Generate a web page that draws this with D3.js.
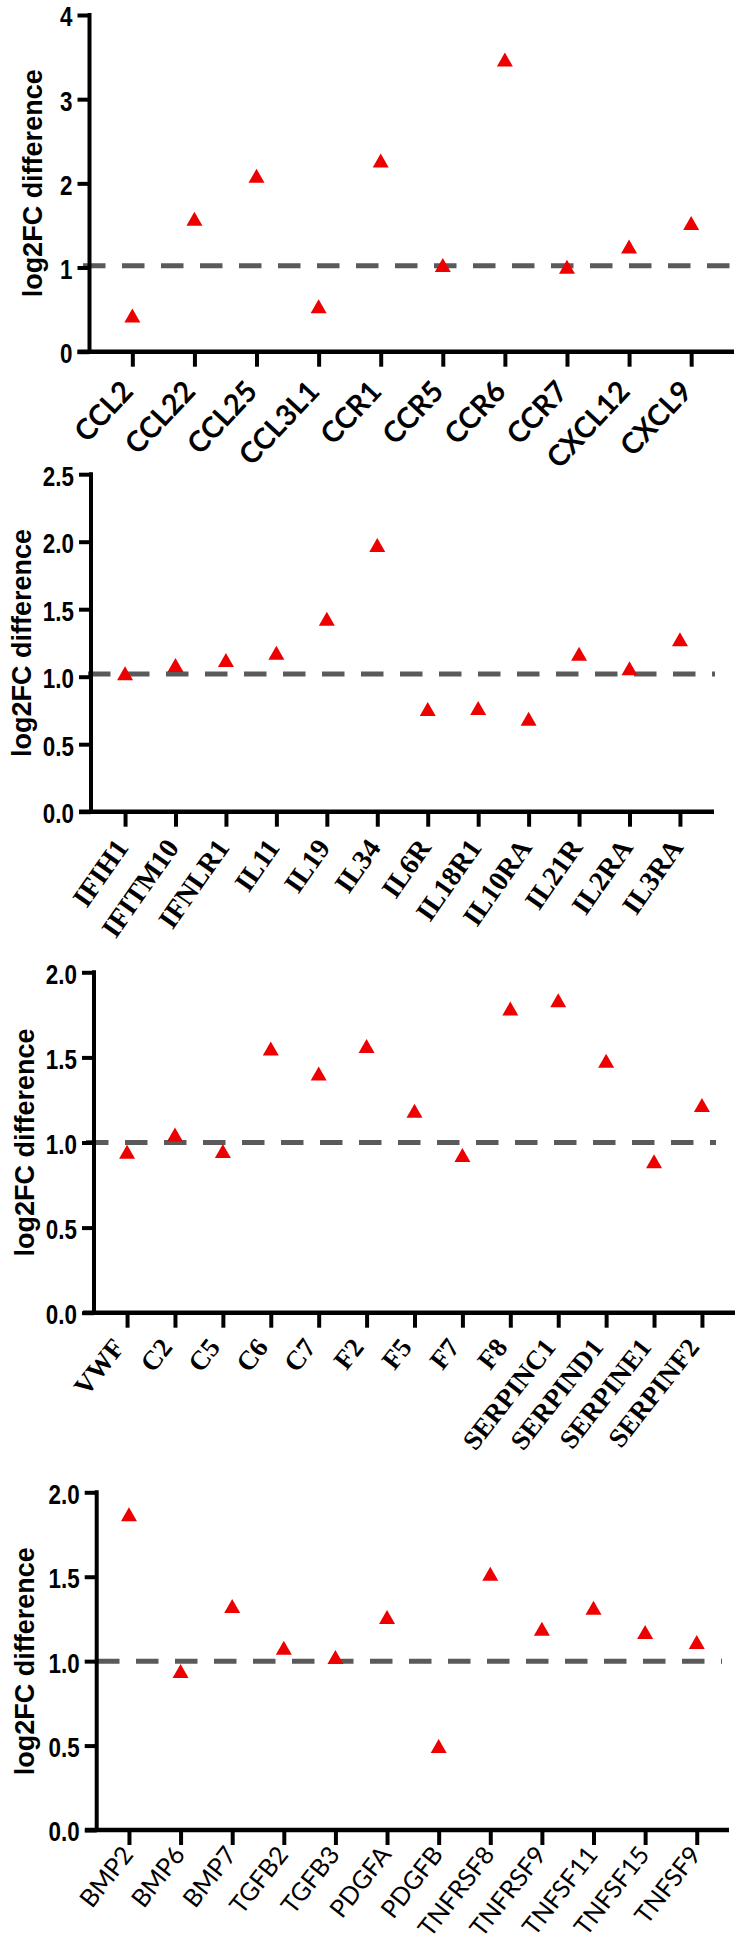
<!DOCTYPE html>
<html>
<head>
<meta charset="utf-8">
<script src="https://cdn.jsdelivr.net/npm/d3@7"></script>
<style>
  html, body { margin: 0; padding: 0; background: #fff; }
  svg { display: block; }
</style>
</head>
<body>
<svg id="chart" width="741" height="1950"></svg>
<script>
// ---------------- DATA ----------------
const chemokineGenes  = ["CCL2","CCL22","CCL25","CCL3L1","CCR1","CCR5","CCR6","CCR7","CXCL12","CXCL9"];
const chemokineValues = [0.43, 1.58, 2.09, 0.54, 2.27, 1.03, 3.47, 1.01, 1.25, 1.53];
const chemokineTicks  = [0, 1, 2, 3, 4];

const interleukinGenes  = ["IFIH1","IFITM10","IFNLR1","IL11","IL19","IL34","IL6R","IL18R1","IL10RA","IL21R","IL2RA","IL3RA"];
const interleukinValues = [1.025, 1.086, 1.123, 1.178, 1.43, 1.975, 0.76, 0.768, 0.689, 1.17, 1.062, 1.277];
const interleukinTicks  = [0, 0.5, 1.0, 1.5, 2.0, 2.5];

const coagulationGenes  = ["VWF","C2","C5","C6","C7","F2","F5","F7","F8","SERPINC1","SERPIND1","SERPINE1","SERPINF2"];
const coagulationValues = [0.945, 1.047, 0.95, 1.553, 1.405, 1.567, 1.186, 0.926, 1.787, 1.836, 1.48, 0.89, 1.22];
const coagulationTicks  = [0, 0.5, 1.0, 1.5, 2.0];

const growthGenes  = ["BMP2","BMP6","BMP7","TGFB2","TGFB3","PDGFA","PDGFB","TNFRSF8","TNFRSF9","TNFSF11","TNFSF15","TNFSF9"];
const growthValues = [1.87, 0.942, 1.326, 1.08, 1.025, 1.261, 0.498, 1.517, 1.192, 1.316, 1.172, 1.113];
const growthTicks  = [0, 0.5, 1.0, 1.5, 2.0];

const referenceLevels = [1.02, 1.02, 1.0, 1.0];
const yAxisTitle = "log2FC difference";

// ---------------- LAYOUT / STYLE ----------------
const panels = [
  { genes: chemokineGenes, values: chemokineValues, ticks: chemokineTicks, ref: referenceLevels[0],
    fmt: d3.format("d"), axisX: 89.5, yTop: 15, y0: 351.7, xStart: 77.5, xEnd: 734, pad: 0.69,
    dashStart: 83, dashEnd: 734, titleX: 42,
    labelFont: "Lato, 'Open Sans', sans-serif", labelWeight: "bold", labelSize: 29, angle: 47, ldx: 2, ldy: 41 },
  { genes: interleukinGenes, values: interleukinValues, ticks: interleukinTicks, ref: referenceLevels[1],
    fmt: d3.format(".1f"), axisX: 91, yTop: 474.2, y0: 811.7, xStart: 79, xEnd: 714, pad: 0.675,
    dashStart: 88, dashEnd: 715, titleX: 31,
    labelFont: "'Liberation Serif', 'Times New Roman', serif", labelWeight: "bold", labelSize: 28, angle: 55, ldx: 4, ldy: 36 },
  { genes: coagulationGenes, values: coagulationValues, ticks: coagulationTicks, ref: referenceLevels[2],
    fmt: d3.format(".1f"), axisX: 94, yTop: 972.3, y0: 1312.7, xStart: 83, xEnd: 735, pad: 0.69,
    dashStart: 86, dashEnd: 716, titleX: 34,
    labelFont: "'Liberation Serif', 'Times New Roman', serif", labelWeight: "bold", labelSize: 27, angle: 52, ldx: -2, ldy: 35 },
  { genes: growthGenes, values: growthValues, ticks: growthTicks, ref: referenceLevels[3],
    fmt: d3.format(".1f"), axisX: 96.7, yTop: 1492.3, y0: 1830, xStart: 85, xEnd: 729, pad: 0.625,
    dashStart: 97, dashEnd: 722, titleX: 34,
    labelFont: "Lato, 'Open Sans', sans-serif", labelWeight: "normal", labelSize: 25, angle: 52, ldx: 5, ldy: 25 }
];

const svg = d3.select("#chart");
svg.append("rect").attr("width", 741).attr("height", 1950).attr("fill", "#fff");

panels.forEach(p => {
  const g = svg.append("g");
  const yMax = p.ticks[p.ticks.length - 1];
  const y = d3.scaleLinear().domain([0, yMax]).range([p.y0, p.yTop]);
  const x = d3.scalePoint().domain(p.genes).range([p.axisX, p.xEnd]).padding(p.pad);

  // reference dashed line
  g.append("line")
    .attr("x1", p.dashStart).attr("x2", p.dashEnd)
    .attr("y1", y(p.ref)).attr("y2", y(p.ref))
    .attr("stroke", "#5a5a5a").attr("stroke-width", 5)
    .attr("stroke-dasharray", "22.5,16.5");

  // y axis
  const yAx = g.append("g")
    .attr("transform", `translate(${p.axisX},0)`)
    .call(d3.axisLeft(y).tickValues(p.ticks).tickFormat(p.fmt).tickSize(12).tickSizeOuter(0));
  yAx.select(".domain").remove();
  yAx.selectAll(".tick line").attr("stroke", "#000").attr("stroke-width", 4);
  yAx.selectAll(".tick text")
    .attr("x", null).attr("dy", null)
    .attr("transform", "translate(-17,1) scale(0.8,1)")
    .attr("dominant-baseline", "central")
    .attr("text-anchor", "end")
    .attr("fill", "#000")
    .style("font-family", "'Liberation Sans', Arial, sans-serif")
    .style("font-weight", "bold")
    .style("font-size", "28px");
  g.append("line")
    .attr("x1", p.axisX).attr("x2", p.axisX)
    .attr("y1", p.yTop - 2).attr("y2", p.y0)
    .attr("stroke", "#000").attr("stroke-width", 4);

  // x axis
  const xAx = g.append("g")
    .attr("transform", `translate(0,${p.y0})`)
    .call(d3.axisBottom(x).tickSize(15).tickSizeOuter(0));
  xAx.select(".domain").remove();
  xAx.selectAll(".tick line").attr("stroke", "#000").attr("stroke-width", 4);
  xAx.selectAll(".tick text")
    .attr("x", null).attr("y", null).attr("dy", null)
    .attr("transform", `translate(${p.ldx},${p.ldy}) rotate(${-p.angle})`)
    .attr("text-anchor", "end")
    .attr("fill", "#000")
    .style("font-family", p.labelFont)
    .style("font-weight", p.labelWeight)
    .style("font-size", p.labelSize + "px");
  g.append("line")
    .attr("x1", p.xStart).attr("x2", p.xEnd)
    .attr("y1", p.y0).attr("y2", p.y0)
    .attr("stroke", "#000").attr("stroke-width", 4.5);

  // title
  g.append("text")
    .attr("transform", `translate(${p.titleX},${(p.yTop + p.y0) / 2}) rotate(-90)`)
    .attr("text-anchor", "middle")
    .attr("fill", "#000")
    .style("font-family", "'Liberation Sans', Arial, sans-serif")
    .style("font-weight", "bold")
    .style("font-size", "27px")
    .text(yAxisTitle);

  // triangles
  const tri = "M0,-7L8,7L-8,7Z";
  g.selectAll("path.pt")
    .data(p.genes.map((gname, i) => ({ gene: gname, value: p.values[i] })))
    .join("path")
    .attr("class", "pt")
    .attr("d", tri)
    .attr("transform", d => `translate(${x(d.gene)},${y(d.value)})`)
    .attr("fill", "#ee0000");
});
</script>
</body>
</html>
